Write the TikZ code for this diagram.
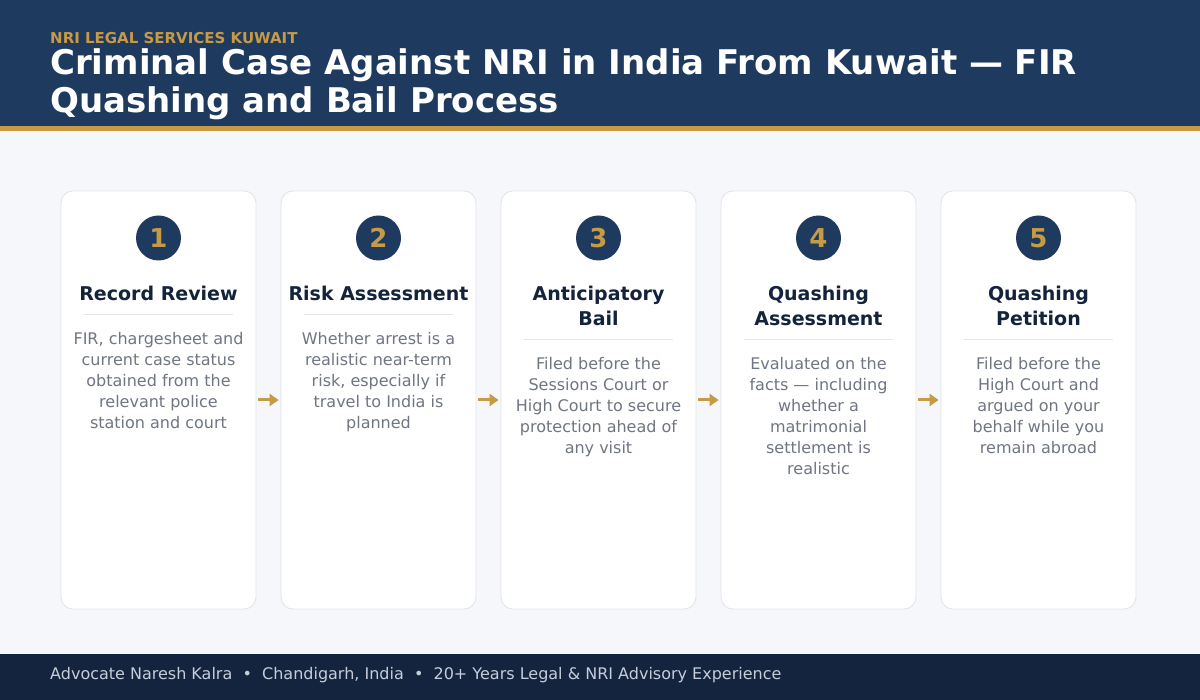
\documentclass[tikz,border=0pt]{standalone}
\usepackage{fontspec}
\setmainfont{DejaVu Sans}
\usetikzlibrary{arrows.meta}
\definecolor{hdrblue}{HTML}{1F3A5F}
\definecolor{gold}{HTML}{C79A45}
\definecolor{ftrblue}{HTML}{14243F}
\definecolor{bgpage}{HTML}{F5F7FA}
\definecolor{cardborder}{HTML}{DFE3EA}
\definecolor{sepline}{HTML}{E3E7ED}
\definecolor{titledark}{HTML}{14233C}
\definecolor{descgray}{HTML}{6F7682}
\definecolor{ftrtext}{HTML}{C5CDD8}
\tikzset{
  card/.style={draw=cardborder, line width=0.8pt, fill=white, rounded corners=12pt,
    minimum width=195pt, minimum height=418pt, inner sep=0pt},
  numcircle/.style={circle, fill=hdrblue, minimum size=45pt, inner sep=0pt,
    text=gold, font=\bfseries\fontsize{26}{26}\selectfont},
  cardtitle/.style={anchor=north, inner sep=0pt, align=center, text=titledark,
    font=\bfseries\fontsize{19}{25}\selectfont},
  carddesc/.style={anchor=north, inner sep=0pt, align=center, text=descgray,
    font=\fontsize{16}{21}\selectfont},
  sepstyle/.style={draw=sepline, line width=1pt},
  flowarrow/.style={draw=gold, line width=3pt, -{Triangle[length=9pt,width=12pt]},
    shorten <=2pt, shorten >=2pt},
}
\newcommand\stepcard[6]{%
  % #1 index, #2 center x, #3 number, #4 title, #5 separator y, #6 description
  \node[card] (c#1) at (#2,400) {};
  \node[numcircle] (n#1) at (#2,238) {#3};
  \node[cardtitle] (t#1) at (#2,286) {#4};
  \coordinate (sl#1) at ([xshift=23pt]c#1.west |- 0,#5);
  \coordinate (sr#1) at ([xshift=-23pt]c#1.east |- 0,#5);
  \draw[sepstyle] (sl#1) -- (sr#1);
  \node[carddesc] (d#1) at (#2,#5+29-12) {#6};
}
\begin{document}
\begin{tikzpicture}[x=1pt,y=-1pt]
\useasboundingbox (0,0) rectangle (1200,700);
\fill[bgpage] (0,0) rectangle (1200,700);
\fill[hdrblue] (0,0) rectangle (1200,126);
\fill[gold] (0,126) rectangle (1200,131);
\fill[ftrblue] (0,654) rectangle (1200,700);
\node[anchor=base west, inner sep=0pt, text=gold, font=\bfseries\fontsize{15}{15}\selectfont] (sub) at (50,44) {NRI LEGAL SERVICES KUWAIT};
\node[anchor=base west, inner sep=0pt, text=white, font=\bfseries\fontsize{34}{38}\selectfont] (title1) at (50,74.5) {Criminal Case Against NRI in India From Kuwait — FIR};
\node[anchor=base west, inner sep=0pt, text=white, font=\bfseries\fontsize{34}{38}\selectfont] (title2) at (50,112.5) {Quashing and Bail Process};
\stepcard{1}{158.5}{1}{Record Review}{315}{FIR, chargesheet and\\current case status\\obtained from the\\relevant police\\station and court}
\stepcard{2}{378.5}{2}{Risk Assessment}{315}{Whether arrest is a\\realistic near-term\\risk, especially if\\travel to India is\\planned}
\stepcard{3}{598.5}{3}{Anticipatory\\Bail}{340}{Filed before the\\Sessions Court or\\High Court to secure\\protection ahead of\\any visit}
\stepcard{4}{818.5}{4}{Quashing\\Assessment}{340}{Evaluated on the\\facts — including\\whether a\\matrimonial\\settlement is\\realistic}
\stepcard{5}{1038.5}{5}{Quashing\\Petition}{340}{Filed before the\\High Court and\\argued on your\\behalf while you\\remain abroad}
\draw[flowarrow] (c1.east) -- (c2.west);
\draw[flowarrow] (c2.east) -- (c3.west);
\draw[flowarrow] (c3.east) -- (c4.west);
\draw[flowarrow] (c4.east) -- (c5.west);
\node[anchor=base west, inner sep=0pt, text=ftrtext, font=\fontsize{16}{16}\selectfont] (footer) at (50,679) {Advocate Naresh Kalra \ \textbullet\ \ Chandigarh, India \ \textbullet\ \ 20+ Years Legal \& NRI Advisory Experience};
\end{tikzpicture}
\end{document}
